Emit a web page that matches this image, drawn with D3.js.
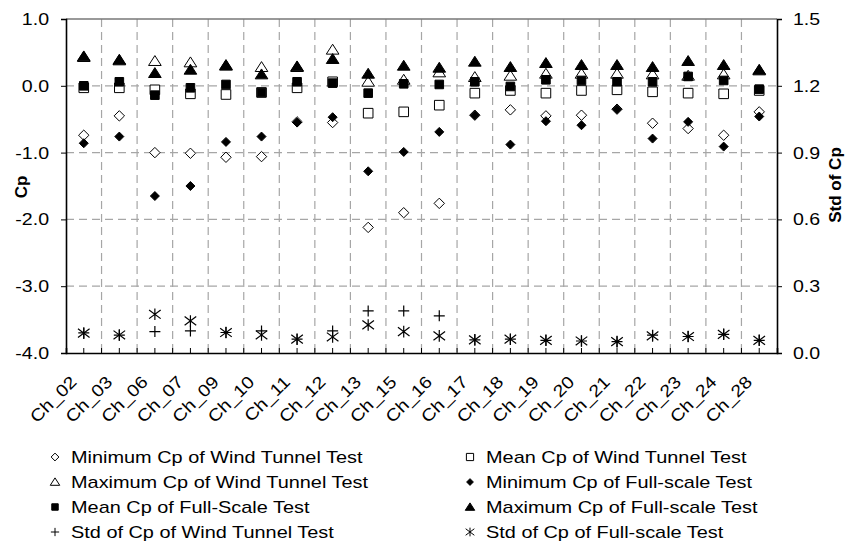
<!DOCTYPE html>
<html>
<head>
<meta charset="utf-8">
<script src="https://cdn.jsdelivr.net/npm/d3@7"></script>
<style>
  body { margin: 0; background: #fff; }
  text { font-family: "Liberation Sans", Arial, sans-serif; fill: #000; }
</style>
</head>
<body>
<div id="chart"></div>
<script>
var width = 849, height = 544;

// channels on the x axis
var categories = ["Ch_02","Ch_03","Ch_06","Ch_07","Ch_09","Ch_10","Ch_11","Ch_12","Ch_13","Ch_15",
                  "Ch_16","Ch_17","Ch_18","Ch_19","Ch_20","Ch_21","Ch_22","Ch_23","Ch_24","Ch_28"];

// Cp values (left axis)
var minWT  = [-0.74,-0.45,-1.00,-1.01,-1.07,-1.06,-0.54,-0.55,-2.12,-1.90,-1.76,-0.44,-0.36,-0.45,-0.44,-0.35,-0.56,-0.64,-0.74,-0.39];
var meanWT = [-0.03,-0.03,-0.06,-0.12,-0.13,-0.10,-0.03, 0.06,-0.41,-0.39,-0.29,-0.11,-0.07,-0.11,-0.07,-0.06,-0.09,-0.11,-0.12,-0.07];
var maxWT  = [ 0.43, 0.38, 0.37, 0.35, 0.30, 0.28, 0.28, 0.54, 0.06, 0.09, 0.20, 0.13, 0.15, 0.18, 0.18, 0.18, 0.17, 0.15, 0.17, 0.23];
var minFS  = [-0.86,-0.76,-1.65,-1.50,-0.84,-0.76,-0.55,-0.47,-1.28,-0.99,-0.69,-0.44,-0.88,-0.53,-0.59,-0.35,-0.79,-0.54,-0.91,-0.46];
var meanFS = [ 0.00, 0.06,-0.14,-0.03, 0.02,-0.10, 0.06, 0.04,-0.11, 0.03, 0.02, 0.06,-0.01, 0.09, 0.08, 0.06, 0.06, 0.14, 0.08,-0.05];
var maxFS  = [ 0.44, 0.39, 0.19, 0.24, 0.31, 0.17, 0.29, 0.40, 0.18, 0.30, 0.27, 0.36, 0.28, 0.34, 0.31, 0.31, 0.28, 0.37, 0.31, 0.24];

// std values (right axis)
var stdWT = [0.090,0.080,0.096,0.099,0.092,0.099,0.062,0.099,0.189,0.189,0.167,0.059,0.062,0.057,0.054,0.051,0.080,0.074,0.084,0.057];
var stdFS = [0.089,0.081,0.174,0.144,0.092,0.081,0.062,0.072,0.126,0.096,0.077,0.059,0.062,0.057,0.054,0.051,0.077,0.074,0.084,0.057];

var cpTicks = [-4, -3, -2, -1, 0, 1];
var stdTicks = [0, 0.3, 0.6, 0.9, 1.2, 1.5];

var m = {left: 66, right: 777, top: 19, bottom: 353};

var svg = d3.select("#chart").append("svg")
    .attr("width", width)
    .attr("height", height);

var x = d3.scaleBand().domain(categories).range([m.left, m.right]).padding(0);
var y = d3.scaleLinear().domain([-4, 1]).range([m.bottom, m.top]);
var y2 = d3.scaleLinear().domain([0, 1.5]).range([m.bottom, m.top]);
var cx = function(i) { return x(categories[i]) + x.bandwidth() / 2; };
var fmt = function(d) { return d.toFixed(1); };  // plain hyphen minus like the original

//stretch text a bit wider like the original
function stretch(sel, k) {
  sel.each(function() {
    var w = this.getComputedTextLength();
    d3.select(this).attr("textLength", w * k).attr("lengthAdjust", "spacingAndGlyphs");
  });
}

// grid
var grid = svg.append("g").attr("stroke", "#a6a6a6").attr("stroke-width", 1.2).attr("stroke-dasharray", "8,5");
grid.selectAll("line.h").data(cpTicks.filter(function(t) { return t > -4 && t < 1; }))
  .enter().append("line")
  .attr("x1", m.left).attr("x2", m.right)
  .attr("y1", function(d) { return y(d); }).attr("y2", function(d) { return y(d); });
grid.selectAll("line.v").data(categories.slice(1))
  .enter().append("line")
  .attr("x1", function(d) { return x(d); }).attr("x2", function(d) { return x(d); })
  .attr("y1", m.top).attr("y2", m.bottom);

// top border
svg.append("line").attr("x1", m.left).attr("x2", m.right).attr("y1", m.top).attr("y2", m.top)
  .attr("stroke", "#777").attr("stroke-width", 1.6);

// left axis
var yAxis = svg.append("g").attr("transform", "translate(" + m.left + ",0)")
  .call(d3.axisLeft(y).tickValues(cpTicks).tickFormat(fmt).tickSize(5).tickPadding(12));
// right axis
var y2Axis = svg.append("g").attr("transform", "translate(" + m.right + ",0)")
  .call(d3.axisRight(y2).tickValues(stdTicks).tickFormat(fmt).tickSize(5).tickPadding(11));
// bottom axis, ticks inside at centres and at boundaries
var xAxis = svg.append("g").attr("transform", "translate(0," + m.bottom + ")")
  .call(d3.axisBottom(x).tickSize(-5).tickFormat(""));
xAxis.selectAll(".bnd").data(categories.slice(1)).enter().append("line")
  .attr("x1", function(d) { return x(d); }).attr("x2", function(d) { return x(d); })
  .attr("y1", 0).attr("y2", -5).attr("stroke", "#000");

[yAxis, y2Axis, xAxis].forEach(function(a) {
  a.select(".domain").attr("stroke", "#000").attr("stroke-width", 1.6);
  a.selectAll(".tick line").attr("stroke", "#000");
  a.selectAll("text").attr("font-size", 17).attr("font-family", "Liberation Sans, Arial, sans-serif").attr("fill", "#000");
});
stretch(yAxis.selectAll(".tick text"), 1.15);
stretch(y2Axis.selectAll(".tick text"), 1.15);

// x tick labels rotated
var xl = svg.append("g").selectAll("text").data(categories).enter().append("text")
  .attr("text-anchor", "end")
  .attr("font-size", 17)
  .attr("transform", function(d) { return "translate(" + (x(d) + x.bandwidth() / 2 - 6) + "," + (m.bottom + 30) + ") rotate(-45)"; })
  .text(function(d) { return d; });
stretch(xl, 1.15);

// axis titles
svg.append("text").attr("transform", "translate(27,187) rotate(-90)")
  .attr("text-anchor", "middle").attr("font-weight", "bold").attr("font-size", 17).text("Cp");
svg.append("text").attr("transform", "translate(841,185) rotate(-90)")
  .attr("text-anchor", "middle").attr("font-weight", "bold").attr("font-size", 17).text("Std of Cp");

// symbol paths
var shapes = {
  diamond: function(s) { return "M0," + (-s) + "L" + s + ",0L0," + s + "L" + (-s) + ",0Z"; },
  square: function(s) { return "M" + (-s) + "," + (-s) + "H" + s + "V" + s + "H" + (-s) + "Z"; },
  triangle: function(s) { return "M0," + (-s) + "L" + (s * 1.15) + "," + (s * 0.8) + "L" + (-s * 1.15) + "," + (s * 0.8) + "Z"; },
  plus: function(s) { return "M" + (-s) + ",0H" + s + "M0," + (-s) + "V" + s; },
  star: function(s) { var a = s, b = s * 0.75; return "M0," + (-s) + "V" + s + "M" + (-a) + "," + (-b) + "L" + a + "," + b + "M" + (-a) + "," + b + "L" + a + "," + (-b); }
};

var series = [
  {name: "Minimum Cp of Wind Tunnel Test", values: minWT, shape: "diamond", size: 5.2, fill: "#fff", scale: y, stroke: 1},
  {name: "Mean Cp of Wind Tunnel Test", values: meanWT, shape: "square", size: 4.8, fill: "#fff", scale: y, stroke: 1},
  {name: "Maximum Cp of Wind Tunnel Test", values: maxWT, shape: "triangle", size: 5.5, fill: "#fff", scale: y, stroke: 1},
  {name: "Minimum Cp of Full-scale Test", values: minFS, shape: "diamond", size: 4.5, fill: "#000", scale: y, stroke: 1},
  {name: "Mean Cp of Full-Scale Test", values: meanFS, shape: "square", size: 4.3, fill: "#000", scale: y, stroke: 1},
  {name: "Maximum Cp of Full-scale Test", values: maxFS, shape: "triangle", size: 5.5, fill: "#000", scale: y, stroke: 1},
  {name: "Std of Cp of Wind Tunnel Test", values: stdWT, shape: "plus", size: 5.5, fill: "none", scale: y2, stroke: 1.2},
  {name: "Std of Cp of Full-scale Test", values: stdFS, shape: "star", size: 5.8, fill: "none", scale: y2, stroke: 1.2}
];

// draw order roughly like the original: open marks under filled marks
[1, 0, 2, 4, 3, 5, 6, 7].forEach(function(k) {
  var s = series[k];
  svg.append("g").selectAll("path").data(s.values).enter().append("path")
    .attr("transform", function(d, i) { return "translate(" + cx(i) + "," + s.scale(d) + ")"; })
    .attr("d", shapes[s.shape](s.size))
    .attr("fill", s.fill).attr("stroke", "#000").attr("stroke-width", s.stroke);
});

// legend, two columns
var legendOrder = [0, 1, 2, 3, 4, 5, 6, 7];
var lg = svg.append("g").selectAll("g").data(legendOrder).enter().append("g")
  .attr("transform", function(d, i) { return "translate(" + (i % 2 ? 470 : 55) + "," + (457 + Math.floor(i / 2) * 25) + ")"; });
lg.append("path")
  .attr("d", function(k) { return shapes[series[k].shape](series[k].size * 0.75); })
  .attr("fill", function(k) { return series[k].fill; })
  .attr("stroke", "#000").attr("stroke-width", 1);
var lt = lg.append("text").attr("x", 16).attr("y", 6).attr("font-size", 17)
  .text(function(k) { return series[k].name; });
stretch(lt, 1.17);
</script>
</body>
</html>
